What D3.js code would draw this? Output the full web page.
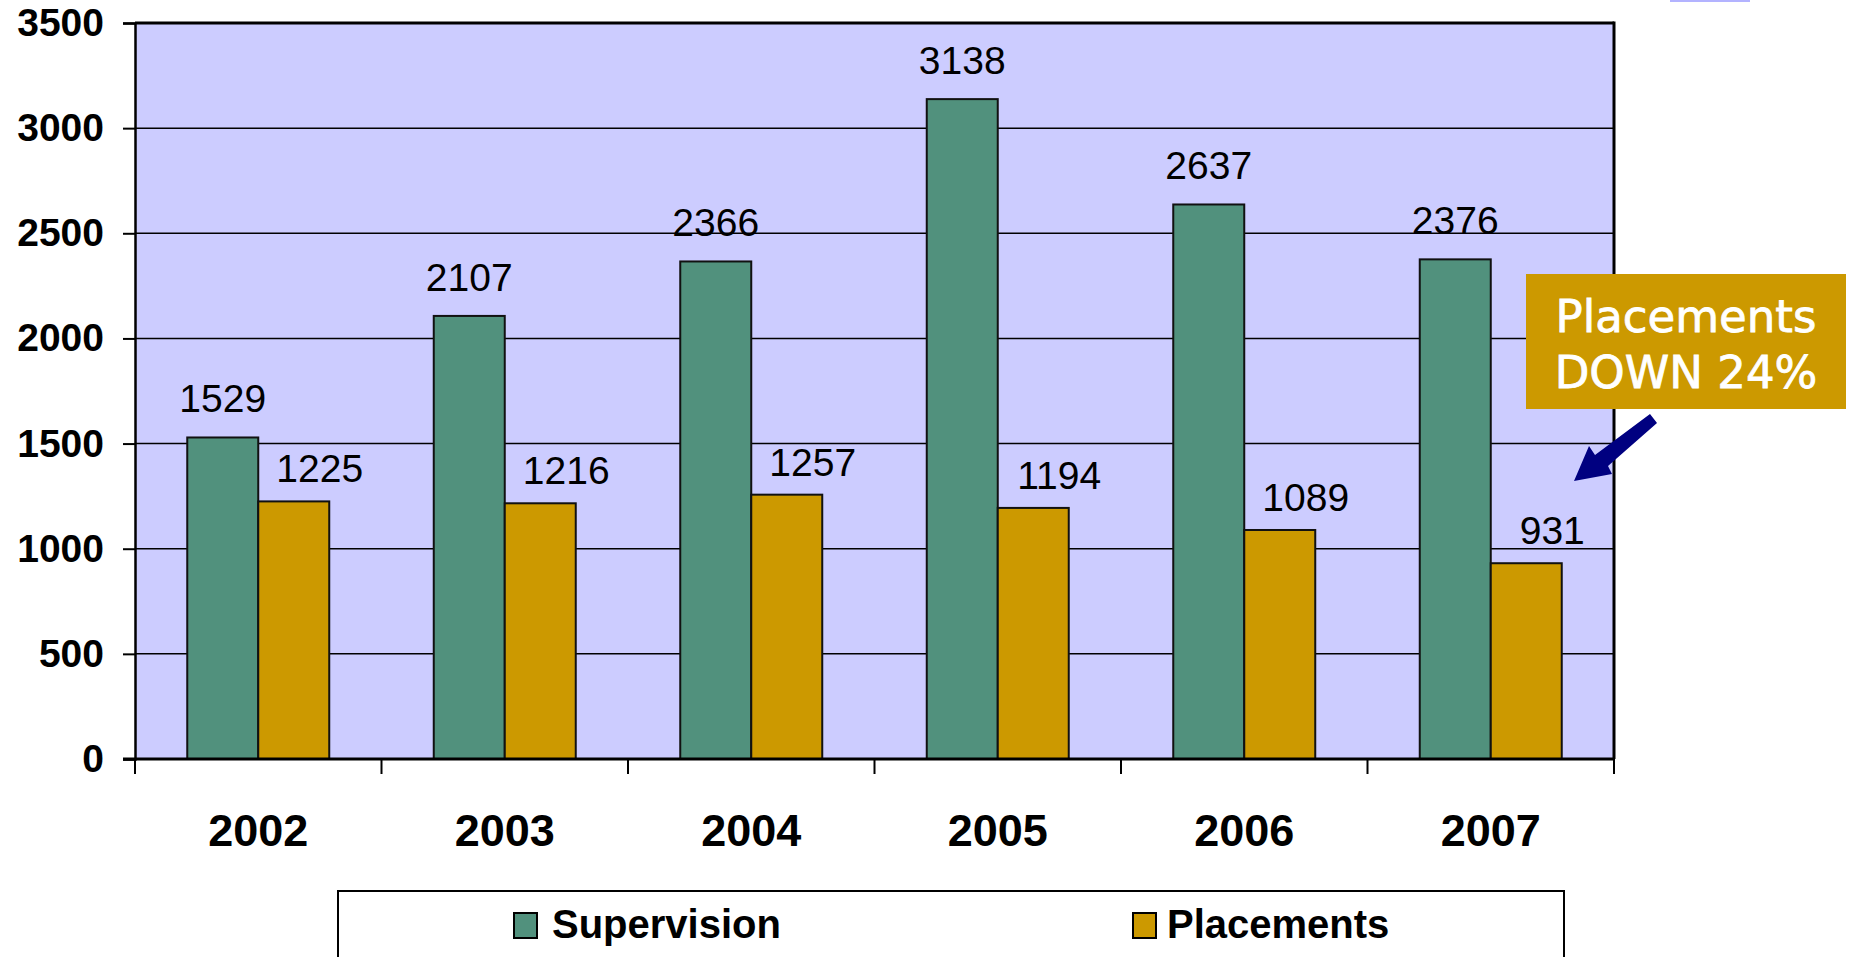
<!DOCTYPE html>
<html>
<head>
<meta charset="utf-8">
<script src="https://cdn.jsdelivr.net/npm/d3@7"></script>
<style>
  html, body { margin: 0; padding: 0; background: #fff; }
  svg { display: block; }
</style>
</head>
<body>
<svg id="chart"></svg>
<script>
// chart data
const years = ["2002", "2003", "2004", "2005", "2006", "2007"];
const seriesNames = ["Supervision", "Placements"];
const supervision = [1529, 2107, 2366, 3138, 2637, 2376];
const placements = [1225, 1216, 1257, 1194, 1089, 931];
const yTicks = [0, 500, 1000, 1500, 2000, 2500, 3000, 3500];
const calloutLines = ["Placements", "DOWN 24%"];

const width = 1851;
const height = 957;
const colors = { Supervision: "#51917d", Placements: "#cc9900" };

// plot area
const plotLeft = 135, plotRight = 1614, plotTop = 23, plotBottom = 759;

const svg = d3.select("#chart")
  .attr("width", width)
  .attr("height", height);

const x0 = d3.scaleBand().domain(years).range([plotLeft, plotRight]).padding(0);
const x1 = d3.scaleBand().domain(seriesNames).range([0, x0.bandwidth()])
  .paddingInner(0).paddingOuter(0.736);
const y = d3.scaleLinear().domain([0, 3500]).range([plotBottom, plotTop]);

// small strip top right
svg.append("rect")
  .attr("x", 1670).attr("y", 0).attr("width", 80).attr("height", 2)
  .attr("fill", "#b3b3ff");

// plot background
svg.append("rect")
  .attr("x", plotLeft).attr("y", plotTop)
  .attr("width", plotRight - plotLeft).attr("height", plotBottom - plotTop)
  .attr("fill", "#ccccff");

// gridlines
svg.append("g")
  .selectAll("line")
  .data(yTicks)
  .join("line")
  .attr("x1", plotLeft).attr("x2", plotRight)
  .attr("y1", d => y(d)).attr("y2", d => y(d))
  .attr("stroke", "#000")
  .attr("stroke-width", d => d === 3500 ? 3 : 1.5);

// y axis
const yAxis = svg.append("g")
  .attr("transform", `translate(${plotLeft},0)`)
  .call(d3.axisLeft(y).tickValues(yTicks).tickFormat(d3.format("d"))
    .tickSize(12).tickPadding(19));
yAxis.select(".domain").attr("stroke-width", 2.5);
yAxis.selectAll(".tick line").attr("stroke-width", 2);
yAxis.selectAll("text")
  .attr("font-family", "'Liberation Sans', Arial, sans-serif")
  .attr("font-weight", "bold")
  .attr("font-size", 39)
  .attr("fill", "#000");

// right border
svg.append("line")
  .attr("x1", plotRight).attr("x2", plotRight)
  .attr("y1", plotTop - 1.5).attr("y2", plotBottom)
  .attr("stroke", "#000").attr("stroke-width", 3);

// bars
const rows = years.map((yr, i) => ({
  year: yr,
  values: [
    { key: "Supervision", value: supervision[i] },
    { key: "Placements", value: placements[i] }
  ]
}));

const groups = svg.append("g")
  .selectAll("g")
  .data(rows)
  .join("g")
  .attr("transform", d => `translate(${x0(d.year)},0)`);

groups.selectAll("rect")
  .data(d => d.values)
  .join("rect")
  .attr("x", d => x1(d.key))
  .attr("y", d => y(d.value))
  .attr("width", x1.bandwidth())
  .attr("height", d => plotBottom - y(d.value))
  .attr("fill", d => colors[d.key])
  .attr("stroke", "#111")
  .attr("stroke-width", 2);

// value labels
groups.selectAll("text")
  .data(d => d.values)
  .join("text")
  .attr("x", d => x1(d.key) + x1.bandwidth() / 2 + (d.key === "Placements" ? 26 : 0))
  .attr("y", d => y(d.value) - (d.key === "Placements" ? 19 : 25))
  .attr("text-anchor", "middle")
  .attr("font-family", "'Liberation Sans', Arial, sans-serif")
  .attr("font-size", 39)
  .attr("fill", "#000")
  .text(d => d.value);

// x axis
svg.append("line")
  .attr("x1", plotLeft - 12).attr("x2", plotRight)
  .attr("y1", plotBottom).attr("y2", plotBottom)
  .attr("stroke", "#000").attr("stroke-width", 3);

const boundaries = years.map(d => x0(d)).concat([plotRight]);
svg.append("g")
  .selectAll("line")
  .data(boundaries)
  .join("line")
  .attr("x1", d => d).attr("x2", d => d)
  .attr("y1", plotBottom).attr("y2", plotBottom + 15)
  .attr("stroke", "#000").attr("stroke-width", 2);

svg.append("g")
  .selectAll("text")
  .data(years)
  .join("text")
  .attr("x", d => x0(d) + x0.bandwidth() / 2)
  .attr("y", 846)
  .attr("text-anchor", "middle")
  .attr("font-family", "'Liberation Sans', Arial, sans-serif")
  .attr("font-weight", "bold")
  .attr("font-size", 45)
  .attr("fill", "#000")
  .text(d => d);

// legend
svg.append("rect")
  .attr("x", 338).attr("y", 891)
  .attr("width", 1226).attr("height", 80)
  .attr("fill", "#fff")
  .attr("stroke", "#000").attr("stroke-width", 2);

const legendPos = [{ sq: 514, tx: 552 }, { sq: 1133, tx: 1167 }];
const legend = svg.append("g")
  .selectAll("g")
  .data(seriesNames)
  .join("g");
legend.append("rect")
  .attr("x", (d, i) => legendPos[i].sq)
  .attr("y", 913)
  .attr("width", 23).attr("height", 25)
  .attr("fill", d => colors[d])
  .attr("stroke", "#000").attr("stroke-width", 2);
legend.append("text")
  .attr("x", (d, i) => legendPos[i].tx)
  .attr("y", 938)
  .attr("font-family", "'Liberation Sans', Arial, sans-serif")
  .attr("font-weight", "bold")
  .attr("font-size", 40)
  .attr("fill", "#000")
  .text(d => d);

// callout box
svg.append("rect")
  .attr("x", 1526).attr("y", 274)
  .attr("width", 320).attr("height", 135)
  .attr("fill", "#cc9900");

svg.append("g")
  .selectAll("text")
  .data(calloutLines)
  .join("text")
  .attr("x", 1686)
  .attr("y", (d, i) => 332 + i * 56)
  .attr("text-anchor", "middle")
  .attr("font-family", "'DejaVu Sans', Verdana, sans-serif")
  .attr("font-size", 45)
  .attr("fill", "#fff")
  .attr("stroke", "#fff")
  .attr("stroke-width", 0.8)
  .text(d => d);

// arrow pointing at the last placements bar
svg.append("path")
  .attr("d", "M1657,423 L1608,466 L1612,474 L1574,481 L1589,446 L1595,455 L1650,414 Z")
  .attr("fill", "#000080");
</script>
</body>
</html>
